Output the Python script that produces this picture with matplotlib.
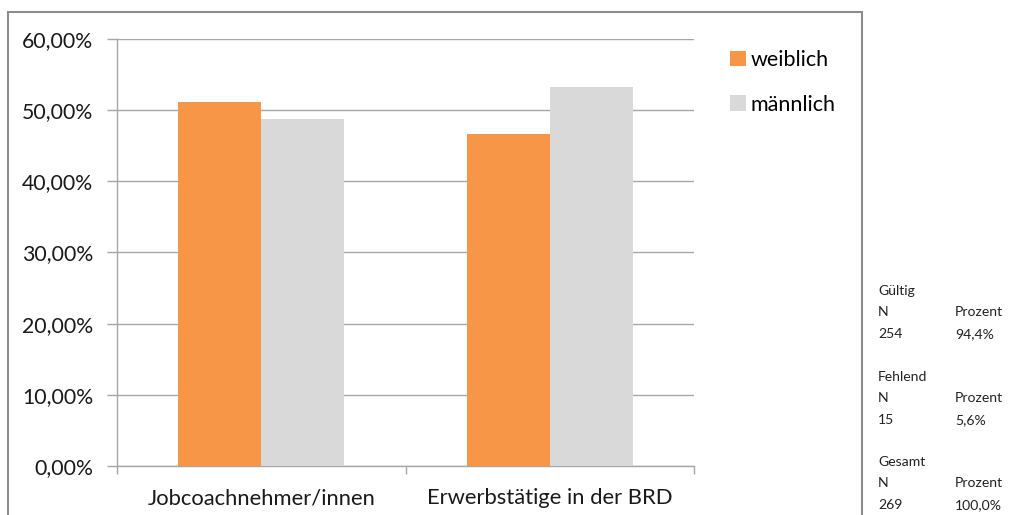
import matplotlib
matplotlib.use("Agg")
import matplotlib.pyplot as plt
from matplotlib.patches import Rectangle, Patch
from matplotlib.ticker import FuncFormatter, FixedLocator
import numpy as np

# Data
categories = ["Jobcoachnehmer/innen", "Erwerbstätige in der BRD"]
weiblich = [0.512, 0.467]
maennlich = [0.488, 0.533]
series_names = ["weiblich", "männlich"]
y_ticks = [0.0, 0.1, 0.2, 0.3, 0.4, 0.5, 0.6]

# Case summary
groups = ["Gültig", "Fehlend", "Gesamt"]
counts = [254, 15, 269]
percents = ["94,4%", "5,6%", "100,0%"]

ORANGE = "#F79646"
GRAY = "#D9D9D9"
LINE = "#A6A6A6"

plt.rcParams["font.family"] = ["Lato", "DejaVu Sans"]

W, H = 1009, 515
fig = plt.figure(figsize=(W / 100, H / 100), dpi=100)

# Outer chart frame
fig.patches.append(Rectangle((8 / W, -0.05), (862 - 8) / W, 1.05 - 12 / H,
                             transform=fig.transFigure, fill=False,
                             edgecolor="#8C8C8C", linewidth=1.5))

ax = fig.add_axes([117 / W, 1 - 466 / H, (694 - 117) / W, (466 - 39) / H])
x = np.arange(len(categories))
bw = 0.288
ax.bar(x - bw / 2, weiblich, bw, color=ORANGE, label=series_names[0], zorder=3)
ax.bar(x + bw / 2, maennlich, bw, color=GRAY, label=series_names[1], zorder=3)

ax.set_xlim(-0.5, len(categories) - 0.5)
ax.set_ylim(0, 0.6)
ax.set_yticks(y_ticks)
ax.yaxis.set_major_formatter(FuncFormatter(lambda v, p: f"{v * 100:.2f}".replace(".", ",") + "%"))
ax.grid(axis="y", color=LINE, linewidth=1.0, zorder=0)
ax.tick_params(axis="y", length=7, color=LINE, width=1.0, labelsize=15.3, pad=10, labelcolor="#1a1a1a")

# Category labels between boundary ticks
ax.xaxis.set_major_locator(FixedLocator([-0.5, 0.5, 1.5]))
ax.xaxis.set_major_formatter(FuncFormatter(lambda v, p: ""))
ax.set_xticks(x, minor=True)
ax.set_xticklabels(categories, minor=True)
ax.tick_params(axis="x", which="major", length=6, color=LINE, width=1.0)
ax.tick_params(axis="x", which="minor", length=0, labelsize=15.8, pad=16, labelcolor="#1a1a1a")

for side in ["top", "right"]:
    ax.spines[side].set_visible(False)
for side in ["left", "bottom"]:
    ax.spines[side].set_color(LINE)
    ax.spines[side].set_linewidth(1.0)

handles = [Patch(facecolor=ORANGE), Patch(facecolor=GRAY)]
fig.legend(handles, series_names, loc="upper left", bbox_to_anchor=(730 / W, 1 - 50 / H),
           frameon=False, fontsize=15.5, handlelength=0.75, handleheight=0.75,
           handletextpad=0.2, labelspacing=1.15, borderaxespad=0, borderpad=0)

# Side table
y0 = [291, 377, 462]
for g, n, p, yy in zip(groups, counts, percents, y0):
    kw = dict(fontsize=10.1, va="center", ha="left", color="#222222")
    fig.text(878 / W, 1 - yy / H, g, **kw)
    fig.text(878 / W, 1 - (yy + 21) / H, "N", **kw)
    fig.text(955 / W, 1 - (yy + 21) / H, "Prozent", **kw)
    fig.text(878 / W, 1 - (yy + 43) / H, str(n), **kw)
    fig.text(955 / W, 1 - (yy + 43) / H, p, **kw)

fig.savefig("out.png", dpi=100)
